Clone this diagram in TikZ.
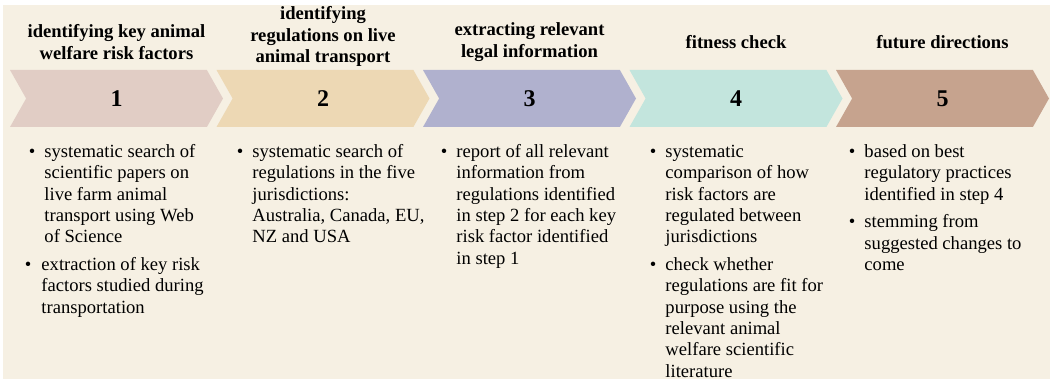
\documentclass[tikz,border=0pt]{standalone}
\usepackage{fontspec}
\setmainfont{Liberation Serif}
\usetikzlibrary{
        positioning,
        shapes.symbols
    }
\definecolor{bgcream}{HTML}{F6F0E3}
\definecolor{stepA}{HTML}{E1CDC5}
\definecolor{stepB}{HTML}{EDD8B4}
\definecolor{stepC}{HTML}{B0B1CE}
\definecolor{stepD}{HTML}{C3E5DD}
\definecolor{stepE}{HTML}{C6A38E}
\tikzset{x=1pt,y=1pt}
\tikzset{
    chevron/.style={signal,signal from=west,signal to=east,signal pointer angle=121,
        minimum width=213pt,minimum height=57pt,inner sep=0pt,outer sep=0pt,
        font=\fontsize{24}{28}\selectfont\bfseries},
    steptitle/.style={align=center,inner sep=0pt,font=\fontsize{18.6}{21.4}\selectfont\bfseries},
    stepitems/.style={anchor=north west,inner sep=0pt,font=\fontsize{18.6}{21.3}\selectfont}
}
\newcommand{\itemlist}[1]{\begin{tabular}{@{}l@{\hspace{9pt}}l@{}}#1\end{tabular}}

\begin{document}
\begin{tikzpicture}
                    \useasboundingbox (0,0) rectangle (1050,379);
                    \fill[bgcream] (3,0) rectangle (1050,374);
                    % the five steps
                    \node[chevron,fill=stepA] (s1) at (116.5,280.5) {1};
                    \node[chevron,fill=stepB] (s2) at (323,280.5)   {2};
                    \node[chevron,fill=stepC] (s3) at (529.5,280.5) {3};
                    \node[chevron,fill=stepD] (s4) at (736,280.5)   {4};
                    \node[chevron,fill=stepE] (s5) at (942.5,280.5) {5};
                    % headings
                    \node[steptitle] (t1) at ([yshift=56.5pt]s1.center) {identifying key animal\\welfare risk factors};
                    \node[steptitle] (t2) at ([yshift=62pt]s2.center)   {identifying\\regulations on live\\animal transport};
                    \node[steptitle] (t3) at ([yshift=56.5pt]s3.center) {extracting relevant\\legal information};
                    \node[steptitle] (t4) at ([yshift=56.5pt]s4.center) {fitness check};
                    \node[steptitle] (t5) at ([yshift=56.5pt]s5.center) {future directions};
                    % what each step does
                    \node[stepitems] (l1) at ([xshift=-87.75pt,yshift=-44pt]s1.center) {\itemlist{
                        \textbullet & systematic search of\\ & scientific papers on\\ & live farm animal\\ & transport using Web\\ & of Science\\[6.4pt]
                        \hspace*{-4pt}\textbullet & \hspace*{-3pt}extraction of key risk\\ & \hspace*{-3pt}factors studied during\\ & \hspace*{-3pt}transportation}};
                    \node[stepitems] (l2) at ([xshift=-86.25pt,yshift=-44pt]s2.center) {\itemlist{
                        \textbullet & systematic search of\\ & regulations in the five\\ & jurisdictions:\\ & Australia, Canada, EU,\\ & NZ and USA}};
                    \node[stepitems] (l3) at ([xshift=-88.75pt,yshift=-44pt]s3.center) {\itemlist{
                        \textbullet & report of all relevant\\ & information from\\ & regulations identified\\ & in step 2 for each key\\ & risk factor identified\\ & in step 1}};
                    \node[stepitems] (l4) at ([xshift=-86.25pt,yshift=-44pt]s4.center) {\itemlist{
                        \textbullet & systematic\\ & comparison of how\\ & risk factors are\\ & regulated between\\ & jurisdictions\\[6.4pt]
                        \textbullet & check whether\\ & regulations are fit for\\ & purpose using the\\ & relevant animal\\ & welfare scientific\\ & literature}};
                    \node[stepitems] (l5) at ([xshift=-93.75pt,yshift=-44pt]s5.center) {\itemlist{
                        \textbullet & based on best\\ & regulatory practices\\ & identified in step 4\\[6.4pt]
                        \textbullet & stemming from\\ & suggested changes to\\ & come}};
                \end{tikzpicture}
\end{document}
